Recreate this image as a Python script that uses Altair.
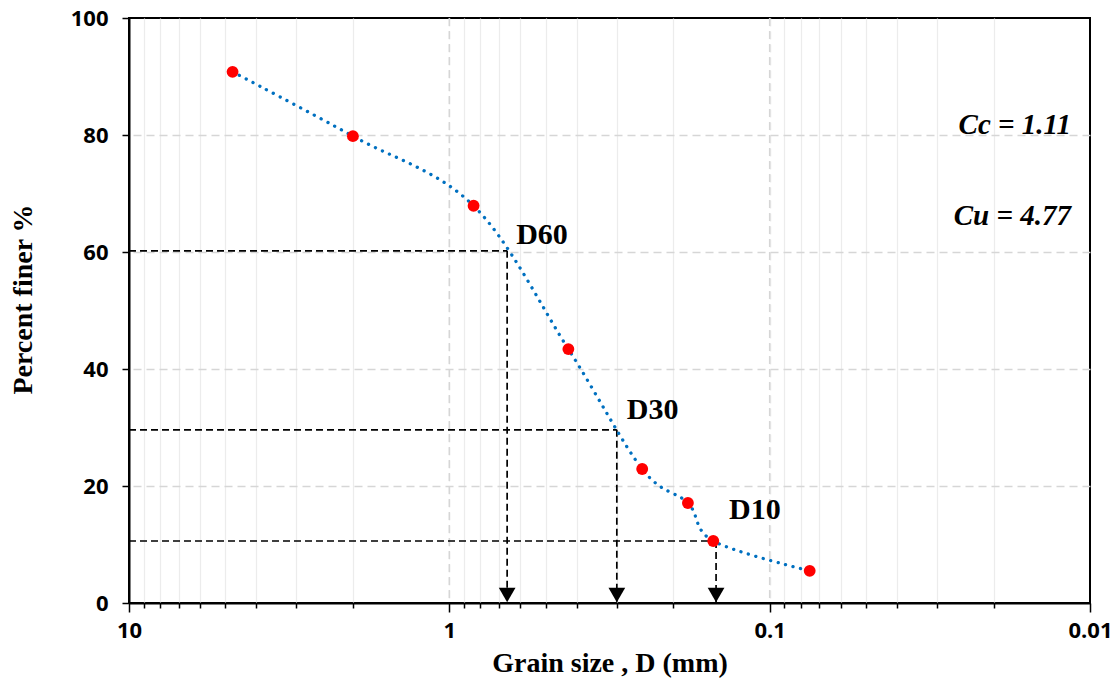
import altair as alt
import pandas as pd

# Sieve data
grain_mm = [4.75, 2.0, 0.84, 0.425, 0.25, 0.18, 0.15, 0.075]
pct_finer = [90.8, 79.8, 67.9, 43.4, 22.9, 17.1, 10.6, 5.5]

# Characteristic diameters
d_names = ["D60", "D30", "D10"]
d_size = [0.66, 0.30, 0.147]
d_pct = [60.2, 29.6, 10.6]

cc_text = "Cc = 1.11"
cu_text = "Cu = 4.77"

major_ticks = [10, 1, 0.1, 0.01]
minor_mult = [2, 3, 4, 5, 6, 7, 8, 9]
x_ticks = sorted(major_ticks + [round(m * 10.0 ** k, 4) for k in (-2, -1, 0) for m in minor_mult])
y_ticks = [0, 20, 40, 60, 80, 100]

df = pd.DataFrame({"D": grain_mm, "P": pct_finer})
dd = pd.DataFrame({"name": d_names, "D": d_size, "P": d_pct, "X0": 10.0, "Y0": 0.0})

is_major = "indexof([10, 1, 0.1, 0.01], datum.value) >= 0"
is_edge = "datum.value == 10 || datum.value == 0.01"

x_scale = alt.Scale(type="log", domain=[0.01, 10], reverse=True, nice=False)
y_scale = alt.Scale(domain=[0, 100], nice=False)

x_axis = alt.Axis(
    title="Grain size , D (mm)",
    values=x_ticks,
    format="~g",
    labelExpr=f"{is_major} ? datum.label : ''",
    labelFont="Open Sans", labelFontWeight="bold", labelFontSize=22, labelColor="black",
    labelPadding=8, labelFlush=False, labelOverlap=False,
    titleFont="Liberation Serif", titleFontWeight="bold", titleFontSize=28, titleColor="black",
    titlePadding=8,
    domainColor="black", domainWidth=2,
    tickColor="black", tickWidth=1.5,
    tickSize={"condition": {"test": is_major, "value": 9}, "value": 5},
    grid=True,
    gridColor={"condition": {"test": is_edge, "value": "transparent"},
               "value": "#ececec"},
    gridDash={"condition": {"test": is_major, "value": [8, 5]}, "value": []},
    gridWidth={"condition": {"test": is_major, "value": 1.5}, "value": 1.2},
)

y_axis = alt.Axis(
    title="Percent finer %",
    values=y_ticks,
    labelFont="Open Sans", labelFontWeight="bold", labelFontSize=22, labelColor="black",
    labelPadding=14,
    titleFont="Liberation Serif", titleFontWeight="bold", titleFontSize=28, titleColor="black",
    titleX=-106, titleY=281, titleAlign="center", titleBaseline="middle", titleAngle=270,
    domainColor="black", domainWidth=2,
    tickColor="black", tickWidth=1.5, tickSize=7,
    grid=True,
    gridColor={"condition": {"test": "datum.value == 0 || datum.value == 100",
                             "value": "transparent"}, "value": "#d6d6d6"},
    gridDash=[8, 5], gridWidth=1.5,
)

base = alt.Chart(df)

# major x grid lines drawn in a darker dashed gray via a separate rule layer
major_grid_df = pd.DataFrame({"g": [1, 0.1]})
major_grid = alt.Chart(major_grid_df).mark_rule(
    color="#d6d6d6", strokeWidth=1.5, strokeDash=[8, 5]
).encode(x=alt.X("g:Q", scale=x_scale))

curve = base.mark_line(
    interpolate="cardinal", color="#0070C0", strokeWidth=3.3,
    strokeDash=[0.1, 7.6], strokeCap="round",
).encode(
    x=alt.X("D:Q", scale=x_scale, axis=x_axis),
    y=alt.Y("P:Q", scale=y_scale, axis=y_axis),
)

points = base.mark_circle(color="#FF0000", size=140, opacity=1).encode(
    x=alt.X("D:Q", scale=x_scale), y=alt.Y("P:Q", scale=y_scale)
)

dguide = alt.Chart(dd)
hlines = dguide.mark_rule(color="black", strokeWidth=1.7, strokeDash=[7, 4]).encode(
    x=alt.X("X0:Q", scale=x_scale), x2="D:Q",
    y=alt.Y("P:Q", scale=y_scale), y2="P:Q",
)
vlines = dguide.mark_rule(color="black", strokeWidth=1.7, strokeDash=[7, 4]).encode(
    x=alt.X("D:Q", scale=x_scale), x2="D:Q",
    y=alt.Y("P:Q", scale=y_scale), y2="Y0:Q",
)
arrows = dguide.mark_point(
    shape="triangle-down", filled=True, color="black", size=280, opacity=1, yOffset=-8
).encode(x=alt.X("D:Q", scale=x_scale), y=alt.Y("Y0:Q", scale=y_scale))

label_offsets = {"D60": (9, -16), "D30": (10, -20), "D10": (13, -31)}
labels = []
for nm in d_names:
    dx, dy = label_offsets[nm]
    labels.append(
        dguide.transform_filter(alt.datum.name == nm).mark_text(
            font="Liberation Serif", fontWeight="bold", fontSize=30, color="black",
            align="left", baseline="middle", dx=dx, dy=dy,
        ).encode(x=alt.X("D:Q", scale=x_scale), y=alt.Y("P:Q", scale=y_scale), text="name:N")
    )

coef_df = pd.DataFrame({"t": [cc_text, cu_text], "row": [0, 1]})
coef = []
for row, ypix in ((0, 107), (1, 198)):
    coef.append(
        alt.Chart(coef_df).transform_filter(alt.datum.row == row).mark_text(
            font="Liberation Serif", fontWeight="bold", fontStyle="italic", fontSize=29,
            color="black", align="right", baseline="middle",
        ).encode(x=alt.value(942), y=alt.value(ypix), text="t:N")
    )

chart = alt.layer(major_grid, hlines, vlines, curve, points, arrows, *labels, *coef).properties(
    width=961, height=585,
    autosize=alt.AutoSizeParams(type="none"),
    padding={"left": 129, "top": 18, "right": 28, "bottom": 89},
    background="white",
).configure_view(stroke="black", strokeWidth=2)

chart.save("out.html", embed_options={"renderer": "svg", "actions": False})
